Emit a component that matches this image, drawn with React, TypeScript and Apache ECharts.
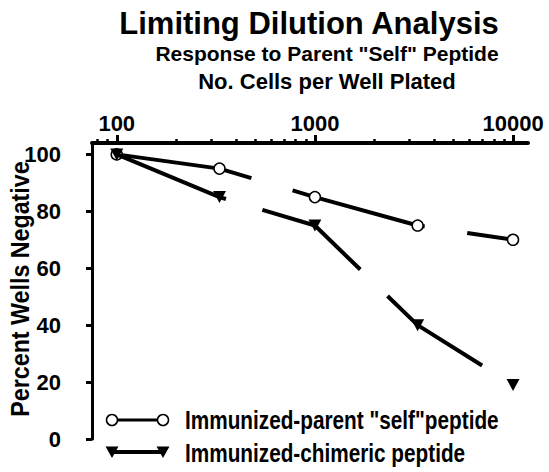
import React, { useEffect, useRef } from "react";
import * as echarts from "echarts";

const parentData: [number, number][] = [
  [100, 100],
  [330, 95],
  [1000, 85],
  [3300, 75],
  [10000, 70],
];
const chimericData: [number, number][] = [
  [100, 100],
  [330, 85],
  [1000, 75],
  [3300, 40],
  [10000, 19],
];
const xMajorTicks = [100, 1000, 10000];
const xMinorTicks = [80, 90, 200, 300, 400, 500, 600, 700, 800, 900, 2000, 3000, 4000, 5000, 6000, 7000, 8000, 9000];
const yStep = 20;
const seriesNames = ['Immunized-parent "self"peptide', "Immunized-chimeric peptide"];
const titleText = "Limiting Dilution Analysis";
const subtitle1 = 'Response to Parent "Self" Peptide';
const subtitle2 = "No. Cells per Well Plated";
const yName = "Percent Wells Negative";

const FONT = '"Liberation Sans", Arial, sans-serif';

export default function App() {
  const ref = useRef<HTMLDivElement>(null);
  useEffect(() => {
    if (!ref.current) return;
    const chart = echarts.init(ref.current, undefined, { renderer: "svg" });
    const labelStyle = { color: "#000", fontFamily: FONT, fontWeight: "bold" as const, fontSize: 22 };
    const tri = (cx: number, cy: number) => [
      [cx - 6.5, cy - 5.5],
      [cx + 6.5, cy - 5.5],
      [cx, cy + 6],
    ];
    chart.setOption({
      animation: false,
      backgroundColor: "#fff",
      grid: { left: 92, right: 21, top: 143, bottom: 33, containLabel: false, outerBoundsMode: "none" },
      xAxis: [
        {
          type: "log",
          position: "top",
          min: 75,
          max: 11900,
          axisLine: { show: true, onZero: false, lineStyle: { color: "#000", width: 4 } },
          axisTick: { show: true, customValues: xMajorTicks, length: 8, lineStyle: { color: "#000", width: 3 } },
          axisLabel: { ...labelStyle, customValues: xMajorTicks, margin: 9, formatter: (v: number) => String(Math.round(v)) },
          splitLine: { show: false },
          minorTick: { show: false },
        },
        {
          type: "log",
          position: "top",
          min: 75,
          max: 11900,
          axisLine: { show: false, onZero: false },
          axisTick: { show: true, customValues: xMinorTicks, length: 4, lineStyle: { color: "#000", width: 2.5 } },
          axisLabel: { show: false },
          splitLine: { show: false },
        },
      ],
      yAxis: {
        type: "value",
        position: "left",
        min: 0,
        max: 104,
        interval: yStep,
        axisLine: { show: true, onZero: false, lineStyle: { color: "#000", width: 3 } },
        axisTick: { show: true, inside: false, length: 6, lineStyle: { color: "#000", width: 3 } },
        axisLabel: {
          ...labelStyle,
          inside: false,
          margin: 19,
          align: "right",
          padding: [0, 12, 0, 0],
          showMaxLabel: false,
          formatter: (v: number) => (v % yStep === 0 ? String(v) : ""),
        },
        splitLine: { show: false },
      },
      series: [
        {
          name: seriesNames[0],
          type: "line",
          xAxisIndex: 0,
          data: parentData,
          symbol: "circle",
          symbolSize: 11,
          itemStyle: { color: "#fff", borderColor: "#000", borderWidth: 1.5 },
          lineStyle: { color: "#000", width: 4, type: [137, 43] },
          z: 2,
        },
        {
          name: seriesNames[1],
          type: "line",
          xAxisIndex: 0,
          data: chimericData,
          symbol: "triangle",
          symbolRotate: 180,
          symbolSize: [13, 12],
          itemStyle: { color: "#000" },
          lineStyle: { color: "#000", width: 4, type: [118, 38] },
          z: 3,
        },
      ],
      graphic: [
        { type: "text", x: 309, y: 23, style: { text: titleText, textAlign: "center", textVerticalAlign: "middle", font: `bold 31px ${FONT}`, fill: "#000" } },
        { type: "text", x: 327, y: 53, style: { text: subtitle1, textAlign: "center", textVerticalAlign: "middle", font: `bold 21px ${FONT}`, fill: "#000" } },
        { type: "text", x: 327, y: 81, style: { text: subtitle2, textAlign: "center", textVerticalAlign: "middle", font: `bold 22px ${FONT}`, fill: "#000" } },
        { type: "text", x: 20, y: 289, rotation: Math.PI / 2, scaleX: 0.93, style: { text: yName, textAlign: "center", textVerticalAlign: "middle", font: `bold 25px ${FONT}`, fill: "#000" } },
        { type: "line", shape: { x1: 112, y1: 420, x2: 163, y2: 420 }, style: { stroke: "#000", lineWidth: 3 } },
        { type: "circle", shape: { cx: 112, cy: 420, r: 5.5 }, style: { fill: "#fff", stroke: "#000", lineWidth: 1.5 } },
        { type: "circle", shape: { cx: 163, cy: 420, r: 5.5 }, style: { fill: "#fff", stroke: "#000", lineWidth: 1.5 } },
        { type: "text", x: 185, y: 420, scaleX: 0.83, style: { text: seriesNames[0], textVerticalAlign: "middle", font: `bold 25px ${FONT}`, fill: "#000" } },
        { type: "line", shape: { x1: 112, y1: 452, x2: 163, y2: 452 }, style: { stroke: "#000", lineWidth: 4 } },
        { type: "polygon", shape: { points: tri(112, 452) }, style: { fill: "#000" } },
        { type: "polygon", shape: { points: tri(163, 452) }, style: { fill: "#000" } },
        { type: "text", x: 185, y: 453, scaleX: 0.83, style: { text: seriesNames[1], textVerticalAlign: "middle", font: `bold 25px ${FONT}`, fill: "#000" } },
      ],
    });
    return () => chart.dispose();
  }, []);
  return <div ref={ref} style={{ position: "fixed", left: 0, top: 0, width: 549, height: 472 }} />;
}
